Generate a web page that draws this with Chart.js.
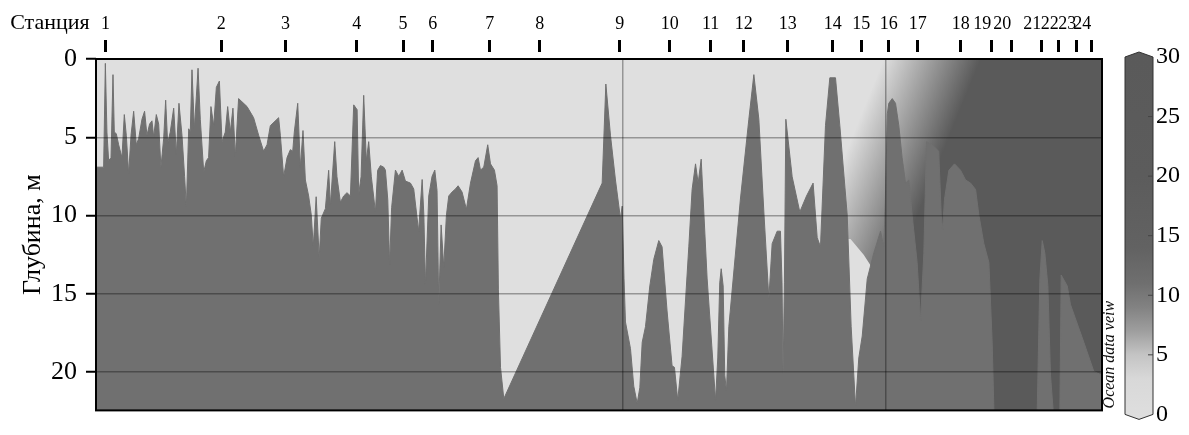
<!DOCTYPE html>
<html><head><meta charset="utf-8">
<script src="https://cdn.jsdelivr.net/npm/chart.js@4.4.1/dist/chart.umd.min.js"></script>
<style>html,body{margin:0;padding:0;background:#fff}canvas{display:block}</style>
</head><body>
<canvas id="c" width="1189" height="435"></canvas>
<script>
// ---- data ----
const stationNames = ['1','2','3','4','5','6','7','8','9','10','11','12','13','14','15','16','17','18','19','20','21','22','23','24'];
const stationKm = [0.73, 9.52, 14.40, 19.80, 23.32, 25.57, 29.90, 33.70, 39.77, 43.57, 46.68, 49.19, 52.53, 55.95, 58.11, 60.20, 62.41, 65.67, 67.98, 69.50, 71.78, 73.12, 74.44, 75.58];
const depthTicks = [0, 5, 10, 15, 20];
const colorTicks = [0, 5, 10, 15, 20, 25, 30];
const maxDepth = 22.45;
const maxKm = 76.4;
const gridKm = [40, 60];

// upper boundary of the saline (dark) water body along the section: distance (km), depth (m)
const sectionKm = [0,0.58,0.71,0.83,0.96,1.14,1.29,1.39,1.54,1.72,1.97,2.15,2.30,2.48,2.66,2.86,3.06,3.24,3.49,3.69,3.87,4.07,4.25,4.38,4.58,4.76,4.93,5.14,5.29,5.44,5.64,5.90,6.10,6.30,6.53,6.73,6.86,7.04,7.16,7.29,7.47,7.62,7.75,7.92,8.18,8.38,8.55,8.73,8.94,9.14,9.37,9.57,9.82,10.0,10.2,10.4,10.58,10.83,11.47,11.97,12.35,12.73,12.99,13.24,13.87,14.0,14.25,14.51,14.76,14.94,15.06,15.32,15.52,15.72,15.9,16.15,16.35,16.5,16.72,16.95,17.11,17.42,17.67,17.80,18.13,18.3,18.56,18.81,19.06,19.32,19.57,19.83,19.95,20.13,20.33,20.53,20.71,20.91,21.22,21.39,21.60,21.85,21.98,22.16,22.3,22.45,22.74,22.99,23.25,23.5,23.88,24.13,24.5,24.77,24.9,25.02,25.27,25.52,25.73,25.9,26.03,26.21,26.41,26.61,26.79,27.04,27.3,27.5,27.8,28.13,28.44,28.82,29.02,29.2,29.45,29.75,29.96,30.26,30.46,30.56,30.72,30.97,38.44,38.72,39.07,39.45,39.83,39.96,40.1,40.21,40.59,40.84,41.1,41.3,41.48,41.73,42.06,42.36,42.74,42.99,43.37,43.75,43.93,44.18,44.51,45.02,45.27,45.53,45.73,45.96,46.41,47.05,47.22,47.37,47.48,47.63,47.75,47.88,48.06,48.94,49.58,49.96,50.34,50.72,51.1,51.35,51.73,51.98,52.1,52.18,52.28,52.39,52.87,53.45,53.96,54.46,54.77,55.02,55.4,55.73,56.16,56.49,57.05,57.35,57.68,57.93,58.19,58.57,59.07,59.58,59.83,59.95,60.1,60.21,60.47,60.72,60.97,61.22,61.48,61.73,61.98,62.36,62.62,62.87,63.07,63.5,64.0,64.19,64.29,64.44,64.77,65.2,65.66,66.04,66.42,66.8,67.05,67.43,67.81,68.06,68.19,71.48,71.68,71.86,72.06,72.29,72.49,72.69,73.2,73.3,73.76,74.01,75.02,75.78,76.4];
const sectionDepth = [6.91,6.91,0.28,4.67,6.50,6.30,1.00,4.67,4.77,5.48,6.30,3.55,4.87,7.32,4.87,3.34,5.48,5.08,3.85,3.34,4.87,4.16,3.95,4.97,3.55,4.16,6.91,5.08,2.63,5.38,4.67,3.14,6.09,2.83,4.87,7.52,9.46,4.46,4.67,0.69,4.46,2.42,0.59,3.85,7.22,6.50,6.30,3.04,4.26,1.81,1.41,5.28,4.67,3.04,4.67,3.14,6.20,2.53,3.04,3.75,4.87,5.89,5.48,4.26,3.75,4.87,7.52,6.30,5.79,5.89,4.67,2.83,6.91,4.57,7.73,8.75,9.97,12.0,8.8,12.7,10.17,9.56,7.11,9.36,5.28,7.52,9.15,8.75,8.54,8.75,2.93,3.24,8.64,7.52,2.32,6.50,5.28,7.52,9.77,7.11,6.81,6.91,7.1,9.0,13.1,9.5,7.1,7.5,7.1,7.8,7.93,8.3,11.0,7.7,10.0,14.4,8.75,7.5,7.1,8.4,15.7,10.6,13.3,10.0,8.75,8.5,8.3,8.1,8.5,9.6,7.93,6.5,6.3,7.1,6.9,5.48,6.7,7.1,8.1,14.75,19.7,21.7,7.93,1.6,4.87,7.73,10.2,9.4,14.0,16.8,18.5,20.9,22.0,21.0,18.1,17.1,14.5,12.8,11.6,12.0,16.1,19.6,19.7,21.8,19.0,12.0,8.34,6.7,7.93,6.4,14.0,21.8,19.1,14.3,13.4,14.5,20.2,21.2,17.1,8.95,3.85,1.0,3.85,9.77,15.3,11.8,11.0,11.0,14.3,20.2,14.3,3.85,7.52,9.77,8.75,7.93,11.4,12.0,4.26,1.2,1.2,4.26,9.97,17.1,22.2,19.1,17.7,14.05,12.4,11.0,12.0,9.0,3.5,2.83,2.53,2.83,4.26,6.3,7.93,7.73,9.97,13.0,16.7,12.4,5.28,5.48,5.89,9.97,10.9,8.95,7.11,6.7,7.11,7.73,7.93,8.34,9.97,11.8,13.0,18.1,22.45,22.45,14.05,11.6,12.4,14.5,20.2,22.45,22.45,13.8,14.5,15.7,18.1,19.96,20.2];

// lower limit of the upper (high value) water mass in the east of the section
const upperKm = [0, 57.3, 58.3, 59.3, 60.0, 76.4];
const upperDepth = [11.5, 11.5, 12.5, 13.8, 22.45, 22.45];
// front between fresh and saline surface water: two points on its centre line (km, m)
const frontTop = [63.5, 0];
const frontLow = [58.7, 10.0];

// grey colour scale (value -> grey)
const scaleValues = [0, 3, 5, 7, 9, 11, 14, 20, 30];
const scaleColors = ['#dedede','#d8d8d8','#c4c4c4','#9e9e9e','#828282','#6f6f6f','#626262','#5c5c5c','#5a5a5a'];

// ---- style ----
const FONT = '"Liberation Serif", "Times New Roman", serif';
const lightColor = '#dfdfdf';
const bodyColor = '#707070';
const darkColor = '#5a5a5a';
const gridColor = 'rgba(0,0,0,0.33)';
Chart.defaults.font.family = FONT;
Chart.defaults.color = '#000';

const section = sectionKm.map((x, i) => ({x, y: sectionDepth[i]}));
const upper = upperKm.map((x, i) => ({x, y: upperDepth[i]}));

function frontFill(context) {
  const chart = context.chart;
  const a = chart.chartArea;
  if (!a || !chart.scales.x || !chart.scales.y) return darkColor;
  const xs = chart.scales.x, ys = chart.scales.y;
  const ax = xs.getPixelForValue(frontTop[0]), ay = ys.getPixelForValue(frontTop[1]);
  const bx = xs.getPixelForValue(frontLow[0]), by = ys.getPixelForValue(frontLow[1]);
  const dx = bx - ax, dy = by - ay, len = Math.hypot(dx, dy) || 1;
  const nx = dy / len, ny = -dx / len, h = 45;
  const g = chart.ctx.createLinearGradient(ax - nx * h, ay - ny * h, ax + nx * h, ay + ny * h);
  g.addColorStop(0, lightColor);
  g.addColorStop(1, darkColor);
  return g;
}

const decor = {
  id: 'decor',
  beforeDraw(chart) {
    const {ctx, chartArea: a} = chart;
    ctx.save();
    ctx.fillStyle = lightColor;
    ctx.fillRect(a.left, a.top, a.right - a.left, a.bottom - a.top);
    ctx.restore();
  },
  afterDraw(chart) {
    const {ctx, chartArea: a} = chart;
    ctx.save();
    // frame
    ctx.strokeStyle = '#000';
    ctx.lineWidth = 2;
    ctx.strokeRect(a.left, a.top, a.right - a.left, a.bottom - a.top);
    // "Станция"
    ctx.fillStyle = '#000';
    ctx.font = '22px ' + FONT;
    ctx.textAlign = 'right';
    ctx.textBaseline = 'middle';
    const x2 = chart.scales.x2;
    ctx.fillText('Станция', x2.getPixelForValue(stationKm[0]) - 16, a.top - 36);
    // colour bar
    const L = a.right + 23, R = L + 28, T = a.top - 2, B = a.bottom + 4, cap = 5;
    const vy = v => B - v / 30 * (B - T);
    const g = ctx.createLinearGradient(0, B, 0, T);
    scaleValues.forEach((v, i) => g.addColorStop(v / 30, scaleColors[i]));
    ctx.beginPath();
    ctx.moveTo(L, T); ctx.lineTo((L + R) / 2, T - cap); ctx.lineTo(R, T);
    ctx.lineTo(R, B); ctx.lineTo((L + R) / 2, B + cap); ctx.lineTo(L, B);
    ctx.closePath();
    ctx.fillStyle = g;
    ctx.fill();
    ctx.lineWidth = 1;
    ctx.strokeStyle = '#333';
    ctx.stroke();
    ctx.beginPath();
    colorTicks.forEach(v => { if (v > 0 && v < 30) { ctx.moveTo(R - 5, vy(v)); ctx.lineTo(R, vy(v)); } });
    ctx.strokeStyle = '#444';
    ctx.stroke();
    ctx.fillStyle = '#000';
    ctx.font = '24px ' + FONT;
    ctx.textAlign = 'left';
    ctx.textBaseline = 'middle';
    colorTicks.forEach(v => ctx.fillText(String(v), R + 3, vy(v)));
    // ODV mark
    ctx.translate(a.right + 8, a.bottom - 2);
    ctx.rotate(-Math.PI / 2);
    ctx.font = 'italic 16px ' + FONT;
    ctx.textAlign = 'left';
    ctx.textBaseline = 'middle';
    ctx.fillStyle = '#111';
    ctx.fillText('Ocean data veiw', 0, 0);
    ctx.restore();
  }
};

new Chart(document.getElementById('c'), {
  type: 'line',
  data: {
    datasets: [
      {label: 'section', data: section, fill: {value: maxDepth}, backgroundColor: bodyColor,
       borderColor: bodyColor, borderWidth: 1, pointRadius: 0, tension: 0},
      {label: 'upper', data: upper, fill: {value: 0}, backgroundColor: frontFill,
       borderColor: 'rgba(0,0,0,0)', borderWidth: 1, pointRadius: 0, tension: 0}
    ]
  },
  options: {
    responsive: false,
    animation: false,
    events: [],
    layout: {padding: {left: 0, right: 87, top: 0, bottom: 9}},
    plugins: {legend: {display: false}, tooltip: {enabled: false}},
    scales: {
      x: {
        type: 'linear', position: 'bottom', min: 0, max: maxKm, z: 1,
        afterBuildTicks: s => { s.ticks = gridKm.map(v => ({value: v})); },
        ticks: {display: false},
        grid: {drawTicks: false, color: gridColor, lineWidth: 1.5, z: 1},
        border: {display: false},
        afterFit: s => { s.height = 0; }
      },
      x2: {
        type: 'linear', position: 'top', min: 0, max: maxKm,
        afterBuildTicks: s => { s.ticks = stationKm.map(v => ({value: v})); },
        ticks: {autoSkip: false, maxRotation: 0, minRotation: 0, padding: 5,
                font: {size: 18}, color: '#000',
                callback: (v, i) => stationNames[i] + (i >= 18 ? '    ' : '')},
        grid: {drawOnChartArea: false, tickLength: 19, tickWidth: 3, tickColor: '#000', tickBorderDash: [12, 40]},
        border: {display: false},
        afterFit: s => { s.height = 59; }
      },
      y: {
        type: 'linear', position: 'left', reverse: true, min: 0, max: maxDepth, z: 1,
        afterBuildTicks: s => { s.ticks = depthTicks.map(v => ({value: v})); },
        ticks: {font: {size: 26}, color: '#000', padding: 9},
        grid: {color: gridColor, lineWidth: 1.5, tickLength: 10, tickColor: '#000', tickWidth: 2, z: 1},
        border: {display: false},
        title: {display: true, text: 'Глубина, м', font: {size: 26}, color: '#000', padding: {top: 18, bottom: 0}},
        afterFit: s => { s.width = 96; }
      }
    }
  },
  plugins: [decor]
});
</script>
</body></html>
